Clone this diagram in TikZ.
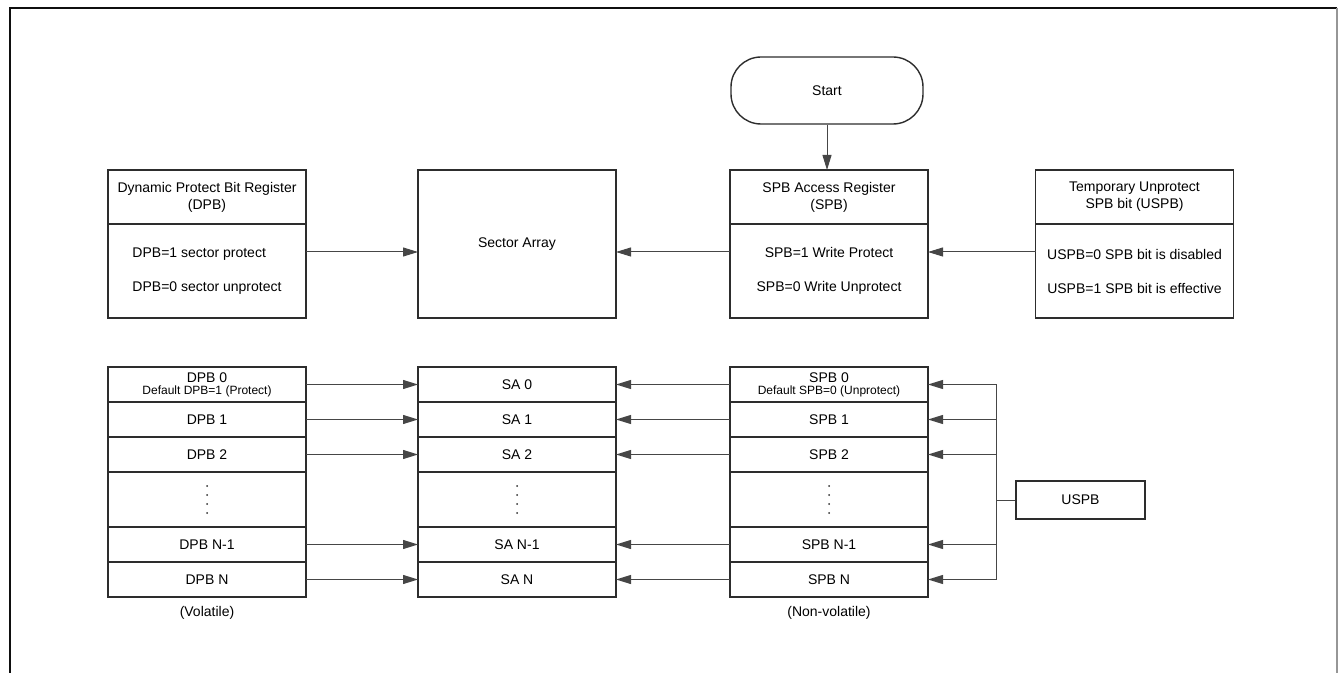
\documentclass[tikz,border=0pt]{standalone}
\usepackage{fontspec}
\setmainfont{Liberation Sans}
\usetikzlibrary{
  arrows.meta,
  positioning
}
\definecolor{boxline}{RGB}{45, 45, 45}
\definecolor{arrowline}{RGB}{70, 70, 70}
\definecolor{framecolor}{RGB}{15, 15, 15}
\definecolor{framegray}{RGB}{150, 150, 150}
\newcommand{\defaultnote}[1]{{\fontsize{6}{6}\selectfont #1}}
\tikzset{
blocktext/.style={
  align=center,
  font=\fontsize{7}{8.4}\selectfont,
  text=black
},
regbox/.style={
  draw=boxline,
  line width=0.7pt,
  minimum width=99pt,
  outer sep=0pt,
  inner sep=0pt,
  blocktext
},
headblock/.style={
  regbox,
  minimum height=27pt
},
bodyblock/.style={
  regbox,
  minimum height=47pt,
  font=\fontsize{7}{17}\selectfont
},
rowblock/.style={
  regbox,
  minimum height=17.5pt
},
gapblock/.style={
  regbox,
  minimum height=27.5pt
},
arrow/.style={
  -{Triangle[length=7.5pt,width=4.5pt]},
  line width=0.5pt,
  draw=arrowline
},
link/.style={
  line width=0.5pt,
  draw=arrowline
}
}

\begin{document}
\begin{tikzpicture}[x=0.5pt, y=-0.5pt]
  \useasboundingbox (0,0) rectangle (1338,673);
  % frame
  \draw[framecolor, line width=1.3pt] (10,673) -- (10,8) -- (1337,8);
  \draw[framegray, line width=0.8pt] (1337,8) -- (1337,673);

  % registers
  \node[draw=boxline, line width=0.7pt, rounded corners=15pt, minimum width=96pt,
        minimum height=33.5pt, blocktext] (start) at (827,90.5) {Start};
  \node[headblock] (dpbhead) at (207,197) {Dynamic Protect Bit Register\\(DPB)};
  \node[bodyblock, below=0pt of dpbhead, align=left] (dpbbody) {DPB=1 sector protect\\DPB=0 sector unprotect};
  \node[regbox, minimum height=74pt] (sector) at (517,244) {Sector Array};
  \node[headblock] (spbhead) at (829,197) {SPB Access Register\\(SPB)};
  \node[bodyblock, below=0pt of spbhead] (spbbody) {SPB=1 Write Protect\\SPB=0 Write Unprotect};
  \node[headblock] (uspbhead) at (1134.5,197) {Temporary Unprotect\\SPB bit (USPB)};
  \node[bodyblock, below=0pt of uspbhead] (uspbbody) {USPB=0 SPB bit is disabled\\USPB=1 SPB bit is effective};

  \draw[arrow] (start.south) -- (start.south |- spbhead.north);
  \draw[arrow] ([yshift=9.5pt]dpbbody.east) -- ([yshift=9.5pt]dpbbody.east -| sector.west);
  \draw[arrow] ([yshift=9.5pt]spbbody.west) -- ([yshift=9.5pt]spbbody.west -| sector.east);
  \draw[arrow] ([yshift=9.5pt]uspbbody.west) -- ([yshift=9.5pt]uspbbody.west -| spbbody.east);

  % bit tables
  \node[rowblock] (dpb0) at (207,384.5) {DPB 0\\[-2.5pt]\defaultnote{Default DPB=1 (Protect)}};
  \node[rowblock, below=0pt of dpb0] (dpb1) {DPB 1};
  \node[rowblock, below=0pt of dpb1] (dpb2) {DPB 2};
  \node[gapblock, below=0pt of dpb2] (dpbgap) {};
  \node[rowblock, below=0pt of dpbgap] (dpbn1) {DPB N-1};
  \node[rowblock, below=0pt of dpbn1] (dpbn) {DPB N};

  \node[rowblock] (sa0) at (517,384.5) {SA 0};
  \node[rowblock, below=0pt of sa0] (sa1) {SA 1};
  \node[rowblock, below=0pt of sa1] (sa2) {SA 2};
  \node[gapblock, below=0pt of sa2] (sagap) {};
  \node[rowblock, below=0pt of sagap] (san1) {SA N-1};
  \node[rowblock, below=0pt of san1] (san) {SA N};

  \node[rowblock] (spb0) at (829,384.5) {SPB 0\\[-2.5pt]\defaultnote{Default SPB=0 (Unprotect)}};
  \node[rowblock, below=0pt of spb0] (spb1) {SPB 1};
  \node[rowblock, below=0pt of spb1] (spb2) {SPB 2};
  \node[gapblock, below=0pt of spb2] (spbgap) {};
  \node[rowblock, below=0pt of spbgap] (spbn1) {SPB N-1};
  \node[rowblock, below=0pt of spbn1] (spbn) {SPB N};

  \foreach \col in {dpbgap, sagap, spbgap}
    \foreach \k in {-1.5, -0.5, 0.5, 1.5}
      \fill[boxline] ([yshift=\k*4.5pt]\col.center) circle (0.5pt);

  \node[draw=boxline, line width=0.7pt, minimum width=64.5pt, minimum height=19pt,
        blocktext] (uspb) at (1080.5,500) {USPB};
  \coordinate (bus) at (996,500);

  \foreach \r in {0, 1, 2, n1, n} {
    \draw[arrow] (dpb\r.east) -- (sa\r.west);
    \draw[arrow] (spb\r.west) -- (sa\r.east);
    \draw[arrow] (bus |- spb\r.east) -- (spb\r.east);
  }
  \draw[link] (bus |- spb0.east) -- (bus |- spbn.east);
  \draw[link] (uspb.west) -- (bus |- uspb.west);

  \node[blocktext] (vollabel) at (207,613) {(Volatile)};
  \node[blocktext] (nonvollabel) at (829,613) {(Non-volatile)};
\end{tikzpicture}
\end{document}
